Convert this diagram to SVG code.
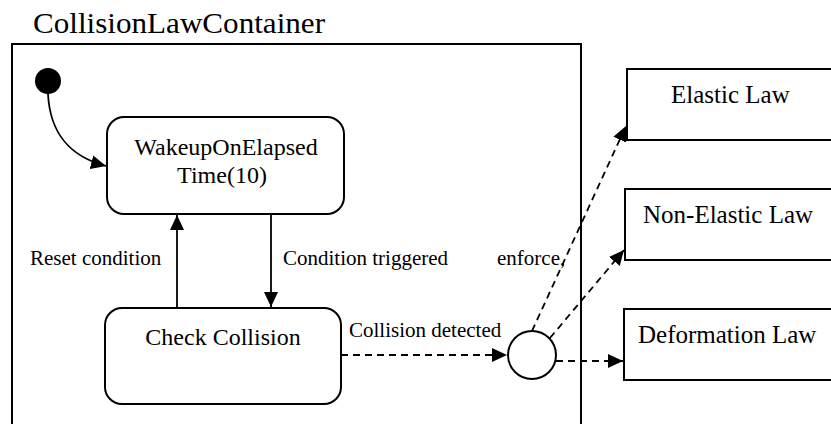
<svg xmlns="http://www.w3.org/2000/svg" width="831" height="424" viewBox="0 0 831 424">
<style>
.title{font-size:29px}
.state{font-size:24px;text-anchor:middle}
.law{font-size:25px}
.lbl{font-size:21px}
.box{fill:#fff;stroke:#000;stroke-width:2}
.solid{fill:none;stroke:#000;stroke-width:1.8}
.dash{fill:none;stroke:#000;stroke-width:1.8;stroke-dasharray:7 5}
</style>
<defs>
<marker id="ah" markerUnits="userSpaceOnUse" markerWidth="16" markerHeight="14" refX="15" refY="7" orient="auto">
<path d="M0,0 L15,7 L0,14 Z" fill="#000"/>
</marker>
</defs>
<rect width="831" height="424" fill="#fff"/>
<g font-family="Liberation Serif, DejaVu Serif, serif" fill="#000">
<g id="container">
<rect x="12" y="44" width="569" height="400" fill="none" stroke="#000" stroke-width="2"/>
<text class="title" x="33" y="33" textLength="292" lengthAdjust="spacingAndGlyphs">CollisionLawContainer</text>
</g>
<g id="initial">
<circle cx="48" cy="81" r="13" fill="#000"/>
</g>
<g id="wakeup">
<rect class="box" x="107" y="117" width="237" height="97" rx="17" ry="17"/>
<text class="state" x="226" y="155">WakeupOnElapsed</text>
<text class="state" x="222" y="183">Time(10)</text>
</g>
<g id="check">
<rect class="box" x="105" y="308" width="236" height="96" rx="17" ry="17"/>
<text class="state" x="223" y="345">Check Collision</text>
</g>
<g id="choice">
<circle cx="532" cy="355" r="24" fill="#fff" stroke="#000" stroke-width="2"/>
</g>
<g id="elastic">
<rect class="box" x="627" y="69" width="220" height="71"/>
<text class="law" x="671" y="103">Elastic Law</text>
</g>
<g id="nonelastic">
<rect class="box" x="625" y="189" width="220" height="71"/>
<text class="law" x="643" y="223">Non-Elastic Law</text>
</g>
<g id="deformation">
<rect class="box" x="624" y="309" width="220" height="71"/>
<text class="law" x="638" y="343">Deformation Law</text>
</g>
<g id="connectors">
<path class="solid" d="M48,94 C50,132 68,156 106,166" marker-end="url(#ah)"/>
<path class="solid" d="M177,308 L177,215" marker-end="url(#ah)"/>
<path class="solid" d="M271,214 L271,307" marker-end="url(#ah)"/>
<path class="dash" d="M341,355 L507,355" marker-end="url(#ah)"/>
<path class="dash" d="M532,331 L626,126" marker-end="url(#ah)"/>
<path class="dash" d="M550,338 L624,250" marker-end="url(#ah)"/>
<path class="dash" d="M556,361 L623,361" marker-end="url(#ah)"/>
<text class="lbl" x="30" y="265">Reset condition</text>
<text class="lbl" x="283" y="265">Condition triggered</text>
<text class="lbl" x="497" y="265">enforce,</text>
<text class="lbl" x="349" y="337">Collision detected</text>
</g>
</g>
</svg>
